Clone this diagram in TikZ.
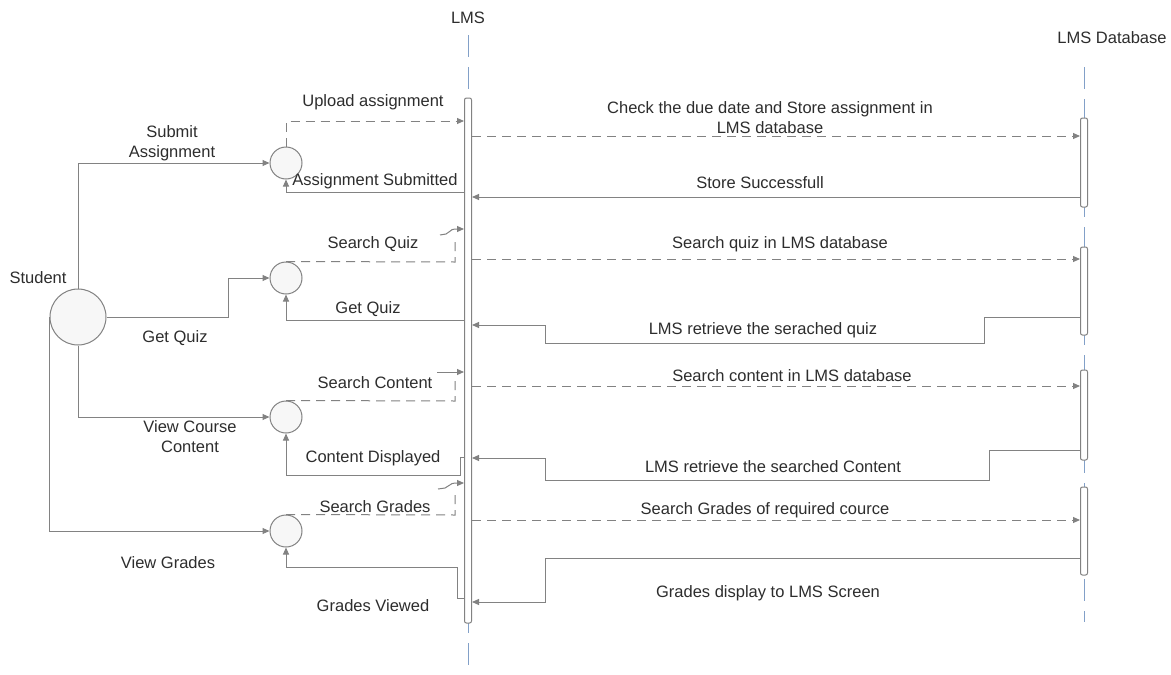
\documentclass[tikz,border=0pt]{standalone}
\usepackage{fontspec}
\setmainfont{Liberation Sans}
\usetikzlibrary{arrows.meta}
\definecolor{ln}{RGB}{130,130,130}
\definecolor{tx}{RGB}{45,45,45}
\definecolor{life}{RGB}{130,160,200}
\tikzset{
  lbl/.style={text=tx,font=\fontsize{16.5}{20}\selectfont,inner sep=0pt,align=center},
  conn/.style={draw=ln,line width=1pt},
  arr/.style={conn,-{Triangle[length=7pt,width=6pt]}},
  dsh/.style={dash pattern=on 9pt off 6pt},
  ball/.style={circle,draw=ln,line width=1pt,fill=black!3,inner sep=0pt},
  actbar/.style={rectangle,draw=ln,line width=1pt,fill=white,minimum width=7pt,inner sep=0pt,rounded corners=2pt},
  lifeline/.style={draw=life,line width=1pt,dash pattern=on 22pt off 10pt}
}
\begin{document}
\begin{tikzpicture}[x=1pt,y=-1pt]
\useasboundingbox[fill=white] (0,0) rectangle (1171,675);
% lifelines
\coordinate (lmstop) at (468,35);
\coordinate (lmsend) at (468,675);
\coordinate (dbtop) at (1084,67);
\coordinate (dbend) at (1084,622);
\draw[lifeline] (lmstop) -- (lmsend);
\draw[lifeline] (dbtop) -- (dbend);
% activation bars
\node[actbar,minimum height=525pt] (lms) at (468,360.5) {};
\node[actbar,minimum height=89pt] (db1) at (1084,162.5) {};
\node[actbar,minimum height=88pt] (db2) at (1084,291) {};
\node[actbar,minimum height=90pt] (db3) at (1084,415) {};
\node[actbar,minimum height=88pt] (db4) at (1084,531) {};
% headers
\node[lbl] (hlms) at (468,18) {LMS};
\node[lbl] (hdb) at (1112,38) {LMS Database};
% student and use balls
\node[ball,minimum size=56pt] (st) at (78,317) {};
\node[lbl] (stl) at (38,278) {Student};
\node[ball,minimum size=32pt] (c1) at (286,163) {};
\node[ball,minimum size=32pt] (c2) at (286,278) {};
\node[ball,minimum size=32pt] (c3) at (286,417) {};
\node[ball,minimum size=32pt] (c4) at (286,531) {};
% student connectors
\draw[arr] (st.north) |- (c1.west);
\draw[arr] (st.east) -- (228,317) |- (c2.west);
\draw[arr] (st.south) |- (c3.west);
\draw[arr] (st.west) |- (c4.west);
\node[lbl] at (172,143) {Submit\\Assignment};
\node[lbl] at (175,338) {Get Quiz};
\node[lbl] at (190,437) {View Course\\Content};
\node[lbl] at (168,563) {View Grades};
% assignment
\draw[arr,dsh] (c1.north) |- (lms.west |- 0,121);
\node[lbl] at (373,102) {Upload assignment};
\draw[arr] (lms.west |- 0,192) -| (c1.south);
\node[lbl] at (375,181) {Assignment Submitted};
% quiz
\draw[conn,dsh] (c2.north) -- (455,262) -- (455,237);
\draw[arr] (440,235) -- (446,234) .. controls (450,233) and (450,229) .. (455,229) -- (lms.west |- 0,229);
\node[lbl] at (373,244) {Search Quiz};
\draw[arr] (lms.west |- 0,320) -| (c2.south);
\node[lbl] at (368,309) {Get Quiz};
% content
\draw[conn,dsh] (c3.north) -- (455,401) -- (455,380);
\draw[arr] (437,372) -- (lms.west |- 0,372);
\node[lbl] at (375,383) {Search Content};
\draw[arr] (lms.west |- 0,457) -- (460,457) -- (460,475) -| (c3.south);
\node[lbl] at (373,458) {Content Displayed};
% grades
\draw[conn,dsh] (c4.north) -- (455,515) -- (455,494);
\draw[arr] (438,489) -- (445,488) .. controls (449,487) and (450,483) .. (455,483) -- (lms.west |- 0,483);
\node[lbl] at (375,507) {Search Grades};
\draw[arr] (lms.west |- 0,598) -- (457,598) -- (457,567) -| (c4.south);
\node[lbl] at (373,606) {Grades Viewed};
% LMS <-> DB
\draw[arr,dsh] (lms.east |- 0,136) -- (db1.west |- 0,136);
\node[lbl] at (770,118) {Check the due date and Store assignment in\\LMS database};
\draw[arr] (db1.west |- 0,197) -- (lms.east |- 0,197);
\node[lbl] at (760,183) {Store Successfull};
\draw[arr,dsh] (lms.east |- 0,259) -- (db2.west |- 0,259);
\node[lbl] at (780,244) {Search quiz in LMS database};
\draw[arr] (db2.west |- 0,317) -- (984,317) -- (984,343) -- (545,343) -- (545,325) -- (lms.east |- 0,325);
\node[lbl] at (763,330) {LMS retrieve the serached quiz};
\draw[arr,dsh] (lms.east |- 0,386) -- (db3.west |- 0,386);
\node[lbl] at (792,376) {Search content in LMS database};
\draw[arr] (db3.west |- 0,450) -- (989,450) -- (989,480) -- (545,480) -- (545,458) -- (lms.east |- 0,458);
\node[lbl] at (773,467) {LMS retrieve the searched Content};
\draw[arr,dsh] (lms.east |- 0,520) -- (db4.west |- 0,520);
\node[lbl] at (765,510) {Search Grades of required cource};
\draw[arr] (db4.west |- 0,558) -- (545,558) -- (545,602) -- (lms.east |- 0,602);
\node[lbl] at (768,593) {Grades display to LMS Screen};
\end{tikzpicture}
\end{document}
